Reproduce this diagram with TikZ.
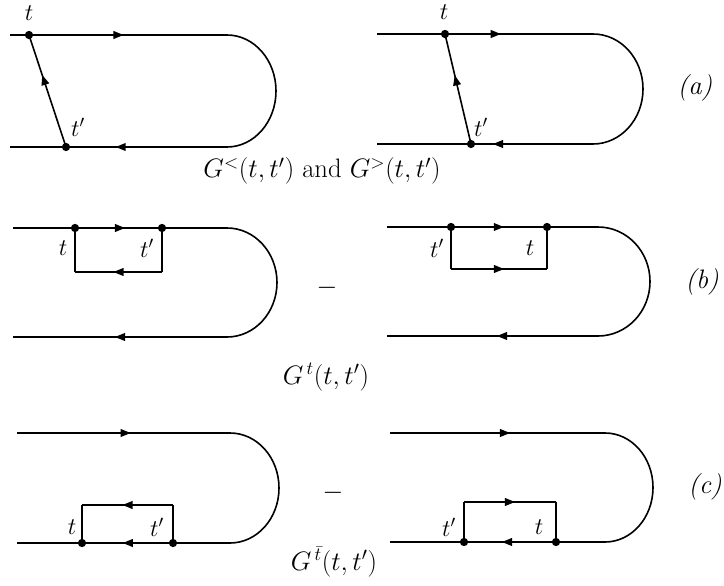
\RequirePackage{fix-cm}
\documentclass[tikz,border=0pt]{standalone}
\usetikzlibrary{arrows.meta,decorations.markings}
\begin{document}
\begin{tikzpicture}[x=0.75pt,y=-0.75pt,
  wire/.style={line width=1.2pt},
  dot/.style={circle,fill,inner sep=0pt,minimum size=6.2pt},
  mid/.style={wire,postaction=decorate,decoration={markings,
     mark=at position #1 with {\arrow[xshift=3.8pt]{Triangle[length=7.6pt,width=5.8pt]}}}},
  lab/.style={font=\fontsize{18}{22}\selectfont,inner sep=0pt},
  big/.style={font=\fontsize{20}{24}\selectfont,inner sep=0pt}]
\useasboundingbox (0,0) rectangle (724,585);

% ---------- (a) left ----------
\coordinate (aLs1) at (10,35);  \coordinate (aLe1) at (227,35);
\coordinate (aLe2) at (227,147); \coordinate (aLs2) at (10,147);
\draw[mid=0.5] (aLs1) -- (aLe1);
\draw[wire] (aLe1) arc[start angle=-90,end angle=90,x radius=49,y radius=56];
\draw[mid=0.49] (aLe2) -- (aLs2);
\node[dot] (aLt) at (29,35) {};
\node[dot] (aLtp) at (66,147) {};
\draw[mid=0.6] (aLtp.center) -- (aLt.center);
\node[lab] (aLlt) at (29,13) {$t$};
\node[lab] (aLltp) at (78,127) {$t'$};

% ---------- (a) right ----------
\coordinate (aRs1) at (377,34);  \coordinate (aRe1) at (593,34);
\coordinate (aRe2) at (593,144); \coordinate (aRs2) at (377,144);
\draw[mid=0.55] (aRs1) -- (aRe1);
\draw[wire] (aRe1) arc[start angle=-90,end angle=90,x radius=50,y radius=55];
\draw[mid=0.44] (aRe2) -- (aRs2);
\node[dot] (aRt) at (445,34) {};
\node[dot] (aRtp) at (471,144) {};
\draw[mid=0.58] (aRtp.center) -- (aRt.center);
\node[lab] (aRlt) at (444,12) {$t$};
\node[lab] (aRltp) at (481,127) {$t'$};
\node[big] (aLabel) at (322,171) {$G^{<}(t,t')$ and $G^{>}(t,t')$};
\node[big] (alab) at (695,88) {\textit{(a)}};

% ---------- (b) left ----------
\coordinate (bLs1) at (13,228);  \coordinate (bLe1) at (227,228);
\coordinate (bLe2) at (227,337); \coordinate (bLs2) at (13,337);
\draw[mid=0.5] (bLs1) -- (bLe1);
\draw[wire] (bLe1) arc[start angle=-90,end angle=90,x radius=50,y radius=54.5];
\draw[mid=0.5] (bLe2) -- (bLs2);
\node[dot] (bLt) at (75,228) {};
\node[dot] (bLtp) at (162,228) {};
\coordinate (bLc) at (162,272); \coordinate (bLd) at (75,272);
\draw[wire] (bLtp.center) -- (bLc);
\draw[mid=0.5] (bLc) -- (bLd);
\draw[wire] (bLd) -- (bLt.center);
\node[lab] (bLlt) at (63,248) {$t$};
\node[lab] (bLltp) at (147,248) {$t'$};
\node[big] (bminus) at (327,288) {$-$};

% ---------- (b) right ----------
\coordinate (bRs1) at (387,227);  \coordinate (bRe1) at (598,227);
\coordinate (bRe2) at (598,336); \coordinate (bRs2) at (387,336);
\draw[mid=0.53] (bRs1) -- (bRe1);
\draw[wire] (bRe1) arc[start angle=-90,end angle=90,x radius=52,y radius=54.5];
\draw[mid=0.455] (bRe2) -- (bRs2);
\node[dot] (bRtp) at (451,227) {};
\node[dot] (bRt) at (547,227) {};
\coordinate (bRc) at (451,269); \coordinate (bRd) at (547,269);
\draw[wire] (bRtp.center) -- (bRc);
\draw[mid=0.5] (bRc) -- (bRd);
\draw[wire] (bRd) -- (bRt.center);
\node[lab] (bRltp) at (437,248) {$t'$};
\node[lab] (bRlt) at (530,248) {$t$};
\node[big] (bLabel) at (326,377) {$G^{\,t}(t,t')$};
\node[big] (blab) at (702,282) {\textit{(b)}};

% ---------- (c) left ----------
\coordinate (cLs1) at (17,433);  \coordinate (cLe1) at (230,433);
\coordinate (cLe2) at (230,543); \coordinate (cLs2) at (17,543);
\draw[mid=0.51] (cLs1) -- (cLe1);
\draw[wire] (cLe1) arc[start angle=-90,end angle=90,x radius=49,y radius=55];
\draw[mid=0.48] (cLe2) -- (cLs2);
\node[dot] (cLt) at (82,543) {};
\node[dot] (cLtp) at (173,543) {};
\coordinate (cLc) at (173,505); \coordinate (cLd) at (82,505);
\draw[wire] (cLtp.center) -- (cLc);
\draw[mid=0.5] (cLc) -- (cLd);
\draw[wire] (cLd) -- (cLt.center);
\node[lab] (cLlt) at (72,527) {$t$};
\node[lab] (cLltp) at (157,527) {$t'$};
\node[big] (cminus) at (333,493) {$-$};

% ---------- (c) right ----------
\coordinate (cRs1) at (390,433);  \coordinate (cRe1) at (605,433);
\coordinate (cRe2) at (605,542); \coordinate (cRs2) at (390,542);
\draw[mid=0.535] (cRs1) -- (cRe1);
\draw[wire] (cRe1) arc[start angle=-90,end angle=90,x radius=48,y radius=54.5];
\draw[mid=0.456] (cRe2) -- (cRs2);
\node[dot] (cRtp) at (464,542) {};
\node[dot] (cRt) at (556,542) {};
\coordinate (cRc) at (464,502); \coordinate (cRd) at (556,502);
\draw[wire] (cRtp.center) -- (cRc);
\draw[mid=0.5] (cRc) -- (cRd);
\draw[wire] (cRd) -- (cRt.center);
\node[lab] (cRltp) at (449,527) {$t'$};
\node[lab] (cRlt) at (539,527) {$t$};
\node[big] (cLabel) at (334,562) {$G^{\,\bar{t}}(t,t')$};
\node[big] (clab) at (705,487) {\textit{(c)}};
\end{tikzpicture}
\end{document}
